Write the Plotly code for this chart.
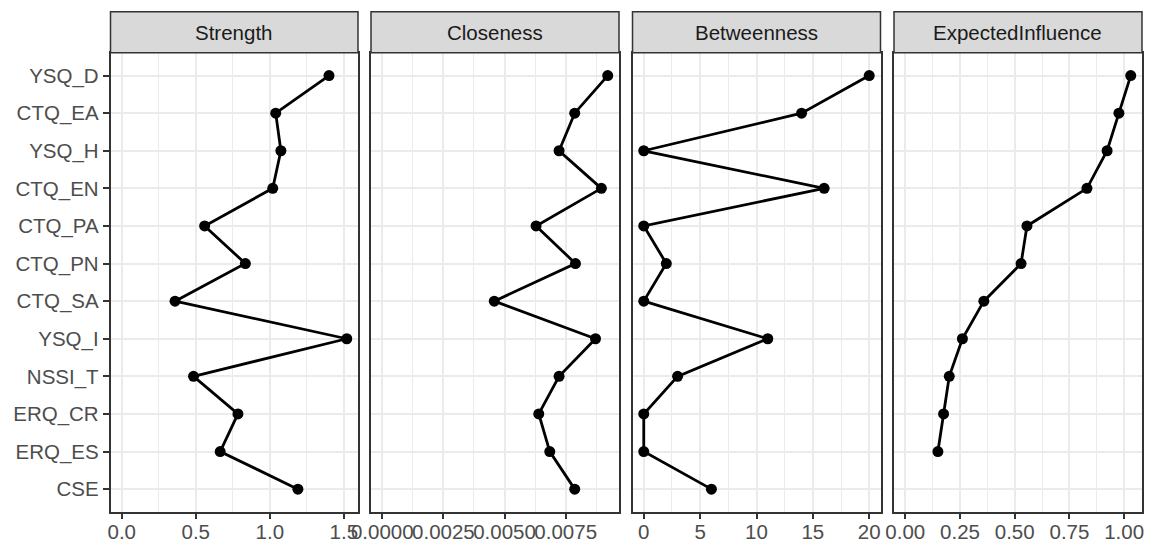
import plotly.graph_objects as go

nodes = ["YSQ_D", "CTQ_EA", "YSQ_H", "CTQ_EN", "CTQ_PA", "CTQ_PN",
         "CTQ_SA", "YSQ_I", "NSSI_T", "ERQ_CR", "ERQ_ES", "CSE"]
strength = [1.40, 1.04, 1.075, 1.02, 0.56, 0.835, 0.36, 1.52, 0.485, 0.785, 0.665, 1.19]
closeness = [0.00922, 0.00787, 0.00723, 0.00896, 0.00629, 0.00790,
             0.00458, 0.00872, 0.00723, 0.00640, 0.00685, 0.00787]
betweenness = [20, 14, 0, 16, 0, 2, 0, 11, 3, 0, 0, 6]
expected_influence = [1.03, 0.976, 0.922, 0.830, 0.556, 0.529,
                      0.359, 0.261, 0.201, 0.175, 0.149, None]

panels = ["Strength", "Closeness", "Betweenness", "ExpectedInfluence"]
series = [strength, closeness, betweenness, expected_influence]
dticks = [0.5, 0.0025, 5, 0.25]
formats = [".1f", ".4f", "d", ".2f"]

W, H = 1153, 543
xpix = [(110.5, 358), (371, 619), (632.5, 880.5), (894, 1142)]
ydom = [(H - 511.7) / H, (H - 53) / H]
strip = [(H - 52.7) / H, (H - 11.7) / H]

GRID = "#EBEBEB"
DARK = "#333333"
FS = 20.5

fig = go.Figure()
layout = dict(width=W, height=H, margin=dict(l=0, r=0, t=0, b=0, pad=0),
              template="none",
              paper_bgcolor="white", plot_bgcolor="white", showlegend=False,
              font=dict(family="Liberation Sans, Arial", size=FS, color="#4D4D4D"))
shapes, annotations = [], []

for i, (name, vals) in enumerate(zip(panels, series)):
    k = "" if i == 0 else str(i + 1)
    fig.add_trace(go.Scatter(
        x=vals, y=nodes, mode="lines+markers",
        xaxis="x" + k, yaxis="y" + k,
        line=dict(color="black", width=2.8),
        marker=dict(color="black", size=11),
    ))
    present = [v for v in vals if v is not None]
    lo, hi = min(0, min(present)), max(present)
    pad = 0.05 * (hi - lo)
    d0 = xpix[i][0] / W
    d1 = xpix[i][1] / W
    layout["xaxis" + k] = dict(
        domain=[d0, d1], anchor="y" + k, range=[lo - pad, hi + pad],
        automargin=False, tickangle=0, ticklabelstandoff=-5,
        tick0=0, dtick=dticks[i], tickformat=formats[i],
        showgrid=True, gridcolor=GRID, gridwidth=2, zeroline=False,
        minor=dict(dtick=dticks[i] / 2, tick0=0, showgrid=True, gridcolor=GRID,
                   gridwidth=1, ticks=""),
        showline=True, mirror=True, linecolor=DARK, linewidth=1.5,
        ticks="outside", ticklen=6, tickwidth=1.5, tickcolor=DARK,
        tickfont=dict(size=FS, color="#4D4D4D"),
    )
    layout["yaxis" + k] = dict(
        domain=ydom, anchor="x" + k, type="category", automargin=False,
        categoryorder="array", categoryarray=nodes[::-1],
        range=[-0.6, len(nodes) - 0.4],
        showgrid=True, gridcolor=GRID, gridwidth=2, zeroline=False,
        showline=True, mirror=True, linecolor=DARK, linewidth=1.5,
        showticklabels=(i == 0), ticks="outside" if i == 0 else "",
        ticklen=6, tickwidth=1.5, tickcolor=DARK,
        tickfont=dict(size=FS, color="#4D4D4D"),
    )
    shapes.append(dict(type="rect", xref="paper", yref="paper",
                       x0=d0, x1=d1, y0=strip[0], y1=strip[1],
                       fillcolor="#D9D9D9", line=dict(color=DARK, width=1.5)))
    annotations.append(dict(xref="paper", yref="paper", x=(d0 + d1) / 2,
                            y=(strip[0] + strip[1]) / 2, text=name, showarrow=False,
                            xanchor="center", yanchor="middle",
                            font=dict(size=FS, color="#1A1A1A")))

layout["shapes"] = shapes
layout["annotations"] = annotations
fig.update_layout(**layout)
fig.write_html("out.html", config={"displayModeBar": False},
               post_script="document.body.style.margin='0px';"
                           "document.body.style.overflow='hidden';")
